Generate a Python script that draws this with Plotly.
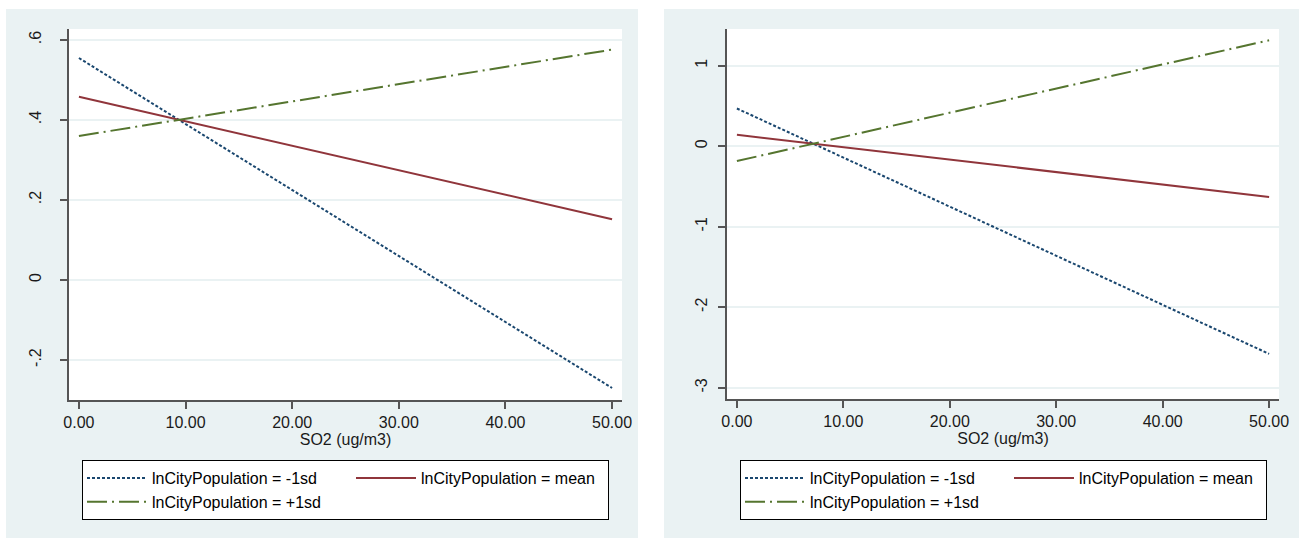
import plotly.graph_objects as go

W, H = 1299, 541

# ---------------- data ----------------
so2 = [0, 50]
x_ticks = [0, 10, 20, 30, 40, 50]
x_ticktext = ["0.00", "10.00", "20.00", "30.00", "40.00", "50.00"]

# left panel
left_minus1sd = [0.555, -0.270]
left_mean = [0.458, 0.152]
left_plus1sd = [0.360, 0.576]
left_yticks = [-0.2, 0, 0.2, 0.4, 0.6]
left_yticktext = ["-.2", "0", ".2", ".4", ".6"]

# right panel
right_minus1sd = [0.468, -2.580]
right_mean = [0.142, -0.631]
right_plus1sd = [-0.185, 1.315]
right_yticks = [-3, -2, -1, 0, 1]
right_yticktext = ["-3", "-2", "-1", "0", "1"]

series_names = ["lnCityPopulation = -1sd", "lnCityPopulation = mean", "lnCityPopulation = +1sd"]
x_title = "SO2 (ug/m3)"

# ---------------- style ----------------
NAVY, MAROON, GREEN = "#1a476f", "#90353b", "#55752f"
BG = "#eaf2f3"
AXC = "#555555"
FONT = "Liberation Sans, Arial, sans-serif"

def px_x(p):
    return p / W

def px_y(p):
    return 1 - p / H

fig = go.Figure()

styles = [
    dict(color=NAVY, width=2, dash="3px,2px"),
    dict(color=MAROON, width=2, dash="solid"),
    dict(color=GREEN, width=2, dash="20px,5px,2px,5px"),
]
groups = ["a", "b", "a"]
lw = [194, 182, 194]

for panel, (ys, xa, ya, lg) in enumerate([
    ((left_minus1sd, left_mean, left_plus1sd), "x", "y", "legend"),
    ((right_minus1sd, right_mean, right_plus1sd), "x2", "y2", "legend2"),
]):
    for i, yv in enumerate(ys):
        fig.add_trace(go.Scatter(
            x=so2, y=yv, mode="lines", name=series_names[i],
            line=styles[i], xaxis=xa, yaxis=ya, legend=lg,
            legendgroup=f"{panel}{groups[i]}", legendwidth=lw[i],
            showlegend=True, hoverinfo="skip",
        ))

# panel geometry (pixels)
L_plot = dict(x0=69, x1=622, y0=29, y1=400)
R_plot = dict(x0=727, x1=1279, y0=29, y1=399)

shapes = []
for x0, x1 in [(6, 638), (664, 1299)]:
    shapes.append(dict(type="rect", xref="paper", yref="paper", layer="below",
                       x0=px_x(x0), x1=px_x(x1), y0=px_y(538), y1=px_y(9),
                       fillcolor=BG, line=dict(width=0)))
for g in [L_plot, R_plot]:
    shapes.append(dict(type="rect", xref="paper", yref="paper", layer="below",
                       x0=px_x(g["x0"]), x1=px_x(g["x1"]), y0=px_y(g["y1"]), y1=px_y(g["y0"]),
                       fillcolor="white", line=dict(width=0)))

def xaxis(g):
    return dict(domain=[px_x(g["x0"]), px_x(g["x1"])], range=[-0.93, 50.93],
                automargin=False,
                tickvals=x_ticks, ticktext=x_ticktext, showgrid=False, zeroline=False,
                showline=True, linecolor=AXC, linewidth=1.5, ticks="outside",
                ticklen=7, tickwidth=1.5, tickcolor=AXC,
                tickfont=dict(size=16, color="#1a1a1a", family=FONT),
                title=dict(text=x_title, font=dict(size=16, color="#1a1a1a", family=FONT), standoff=0))

def yaxis(g, rng, tv, tt, anchor, standoff):
    return dict(domain=[px_y(g["y1"]), px_y(g["y0"])], range=rng, anchor=anchor,
                automargin=False,
                tickvals=tv, ticktext=tt, tickangle=-90, showgrid=True, gridcolor=BG,
                gridwidth=2, zeroline=False, showline=True, linecolor=AXC, linewidth=1.5,
                ticks="outside", ticklen=7, tickwidth=1.5, tickcolor=AXC,
                ticklabelstandoff=standoff,
                tickfont=dict(size=16, color="#1a1a1a", family=FONT))

legend_common = dict(orientation="h", traceorder="grouped", itemwidth=60,
                     bgcolor="white", bordercolor="black", borderwidth=1,
                     font=dict(size=16, color="black", family=FONT),
                     xanchor="left", yanchor="top", itemclick=False, itemdoubleclick=False)

fig.update_layout(
    width=W, height=H,
    margin=dict(l=0, r=0, t=0, b=0, autoexpand=False),
    paper_bgcolor="white", plot_bgcolor="white",
    showlegend=True,
    xaxis=dict(xaxis(L_plot), anchor="y"),
    yaxis=yaxis(L_plot, [-0.30, 0.6275], left_yticks, left_yticktext, "x", 13),
    xaxis2=dict(xaxis(R_plot), anchor="y2"),
    yaxis2=yaxis(R_plot, [-3.14, 1.455], right_yticks, right_yticktext, "x2", 5),
    legend=dict(legend_common, x=px_x(82), y=px_y(460)),
    legend2=dict(legend_common, x=px_x(740), y=px_y(460)),
    shapes=shapes,
)

fig.write_html("out.html", config={"displayModeBar": False},
               post_script="document.body.style.margin='0px';")
